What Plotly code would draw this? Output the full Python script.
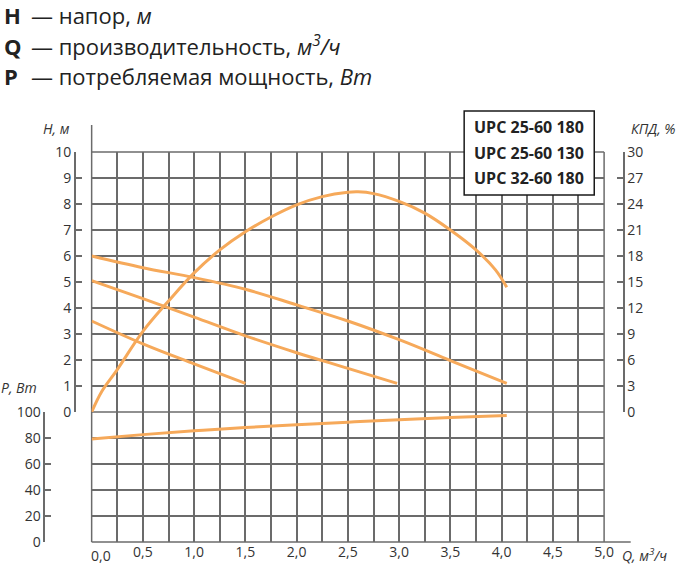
import plotly.graph_objects as go

# ---------------- data ----------------
Q_head1 = [0, 0.5, 1.0, 1.5, 2.0, 2.5, 3.0, 3.5, 4.05]
H_head1 = [6.0, 5.55, 5.17, 4.72, 4.12, 3.5, 2.78, 1.98, 1.1]

Q_head2 = [0, 0.5, 1.0, 1.5, 2.0, 2.5, 2.98]
H_head2 = [5.05, 4.36, 3.65, 2.93, 2.28, 1.68, 1.1]

Q_head3 = [0, 0.5, 1.0, 1.5]
H_head3 = [3.5, 2.62, 1.85, 1.1]

Q_eff = [0, 0.1, 0.25, 0.5, 0.75, 1.0, 1.25, 1.5, 1.75, 2.0, 2.25, 2.5, 2.6,
         2.75, 3.0, 3.25, 3.5, 3.75, 3.94, 4.05]
KPD_eff = [0, 2.4, 4.9, 9.3, 12.8, 16.05, 18.7, 20.8, 22.5, 23.9, 24.85, 25.35,
           25.4, 25.2, 24.3, 22.95, 21.0, 18.7, 16.4, 14.4]

Q_pow = [0, 0.5, 1.0, 1.5, 2.0, 2.5, 3.0, 3.5, 4.05]
P_pow = [79.2, 82.6, 85.5, 88.0, 90.2, 92.2, 94.1, 95.8, 97.4]

Q_grid = [i * 0.25 for i in range(21)]
Q_labels = ["", "", "0,5", "", "1,0", "", "1,5", "", "2,0", "", "2,5", "",
            "3,0", "", "3,5", "", "4,0", "", "4,5", "", "5,0"]
Q_first_label = "0,0"
H_ticks = list(range(0, 11))
KPD_ticks = list(range(0, 31, 3))
P_ticks = list(range(0, 101, 20))

legend_items = ["UPC 25-60 180", "UPC 25-60 130", "UPC 32-60 180"]

# ---------------- style ----------------
W, H = 689, 570
X0, X1 = 93, 613             # plot area left/right (px)
Y0, YM, Y1 = 152, 412, 542   # top, H=0/P=100 line, bottom (px)
MT = Y0
MB = H - Y1
PH = Y1 - Y0
ORANGE = "#F6A95A"
GRID = "#6b6b6b"
TXT = "#333333"
FONT = "Open Sans"


def px(x):
    return x / W


def py(y):
    return (Y1 - y) / PH


fig = go.Figure()
line = dict(color=ORANGE, width=3, shape="spline")
fig.add_trace(go.Scatter(x=Q_head1, y=H_head1, mode="lines", line=line,
                         xaxis="x", yaxis="y", name=legend_items[0]))
fig.add_trace(go.Scatter(x=Q_head2, y=H_head2, mode="lines", line=line,
                         xaxis="x", yaxis="y", name=legend_items[1]))
fig.add_trace(go.Scatter(x=Q_head3, y=H_head3, mode="lines", line=line,
                         xaxis="x", yaxis="y", name=legend_items[2]))
fig.add_trace(go.Scatter(x=Q_eff, y=KPD_eff, mode="lines", line=line,
                         xaxis="x", yaxis="y3", name="КПД"))
fig.add_trace(go.Scatter(x=Q_pow, y=P_pow, mode="lines", line=line,
                         xaxis="x2", yaxis="y2", name="P"))

tickfont = dict(family=FONT, size=14, color=TXT)
xcommon = dict(domain=[px(X0), px(X1)], range=[0, 5], tickvals=Q_grid, ticktext=Q_labels,
               ticks="", showgrid=True, gridcolor=GRID, gridwidth=1.5, showline=False,
               zeroline=False, tickfont=tickfont, fixedrange=True)
ycommon = dict(anchor="free", ticks="inside", ticklen=6, tickwidth=1.5, tickcolor=GRID,
               showline=True, linecolor=GRID, linewidth=1.5, zeroline=False,
               tickfont=tickfont, fixedrange=True, gridcolor=GRID, gridwidth=1.5)
split = (Y1 - YM) / PH

fig.update_layout(
    width=W, height=H,
    margin=dict(l=0, r=0, t=MT, b=MB, pad=0),
    paper_bgcolor="white", plot_bgcolor="rgba(0,0,0,0)",
    showlegend=False,
    xaxis=dict(xcommon, anchor="y", showticklabels=False),
    xaxis2=dict(xcommon, anchor="y2", showticklabels=True),
    yaxis=dict(ycommon, domain=[split, 1], range=[0, 10], tickvals=H_ticks,
               position=px(76), side="left", showgrid=True),
    yaxis3=dict(ycommon, overlaying="y", range=[0, 30], tickvals=KPD_ticks,
                position=px(633), side="right", showgrid=False),
    yaxis2=dict(ycommon, domain=[0, split], range=[0, 100], tickvals=P_ticks,
                position=px(45), side="left", showgrid=True),
)

frame = dict(color=GRID, width=1.5)
# outer frame of the grid (left edge runs a little higher, bottom edge runs further right)
fig.add_shape(type="line", xref="paper", yref="paper", x0=px(X0), x1=px(X0),
              y0=py(Y1), y1=py(125), line=frame, layer="below")
fig.add_shape(type="line", xref="paper", yref="paper", x0=px(X1), x1=px(X1),
              y0=py(Y1), y1=py(Y0), line=frame, layer="below")
fig.add_shape(type="line", xref="paper", yref="paper", x0=px(X0), x1=px(X1),
              y0=py(Y0), y1=py(Y0), line=frame, layer="below")
fig.add_shape(type="line", xref="paper", yref="paper", x0=px(X0), x1=px(X1),
              y0=py(YM), y1=py(YM), line=frame, layer="below")
fig.add_shape(type="line", xref="paper", yref="paper", x0=px(X0), x1=px(640),
              y0=py(Y1), y1=py(Y1), line=frame, layer="below")

# first x label sits just right of the grid edge
fig.add_annotation(xref="paper", yref="paper", x=px(90), y=py(555), text=Q_first_label,
                   showarrow=False, xanchor="left", yanchor="middle", font=tickfont)

# legend box
fig.add_shape(type="rect", xref="paper", yref="paper", x0=px(471), x1=px(603),
              y0=py(195), y1=py(111), fillcolor="white",
              line=dict(color="#1a1a1a", width=1.5), layer="above")
for i, name in enumerate(legend_items):
    fig.add_annotation(xref="paper", yref="paper", x=px(537), y=py(127 + 25.5 * i),
                       text="<b>%s</b>" % name, showarrow=False,
                       xanchor="center", yanchor="middle",
                       font=dict(family=FONT, size=16, color="#222222"))

# axis titles
afont = dict(family=FONT, size=14, color=TXT)
fig.add_annotation(xref="paper", yref="paper", x=px(73), y=py(128), text="<i>H, м</i>",
                   showarrow=False, xanchor="right", yanchor="middle", font=afont)
fig.add_annotation(xref="paper", yref="paper", x=px(638), y=py(128), text="<i>КПД, %</i>",
                   showarrow=False, xanchor="left", yanchor="middle", font=afont)
fig.add_annotation(xref="paper", yref="paper", x=px(40), y=py(387), text="<i>P, Вт</i>",
                   showarrow=False, xanchor="right", yanchor="middle", font=afont)
fig.add_annotation(xref="paper", yref="paper", x=px(629), y=py(555),
                   text="<i>Q, м<sup>3</sup>/ч</i>",
                   showarrow=False, xanchor="left", yanchor="middle", font=afont)

# header
hfont = dict(family=FONT, size=22, color="#222222")
rows = [("H", "— напор, <i>м</i>"),
        ("Q", "— производительность, <i>м<sup>3</sup>/ч</i>"),
        ("P", "— потребляемая мощность, <i>Вт</i>")]
for i, (letter, txt) in enumerate(rows):
    yy = 15 + 30.5 * i
    fig.add_annotation(xref="paper", yref="paper", x=px(2), y=py(yy), text="<b>%s</b>" % letter,
                       showarrow=False, xanchor="left", yanchor="middle", font=hfont)
    fig.add_annotation(xref="paper", yref="paper", x=px(29), y=py(yy), text=txt,
                       showarrow=False, xanchor="left", yanchor="middle", font=hfont)

# remove the default 8px page margin so the 689x570 figure fills the window exactly
fig.write_html("out.html", config={"displayModeBar": False},
               post_script="document.body.style.margin='0px';")
